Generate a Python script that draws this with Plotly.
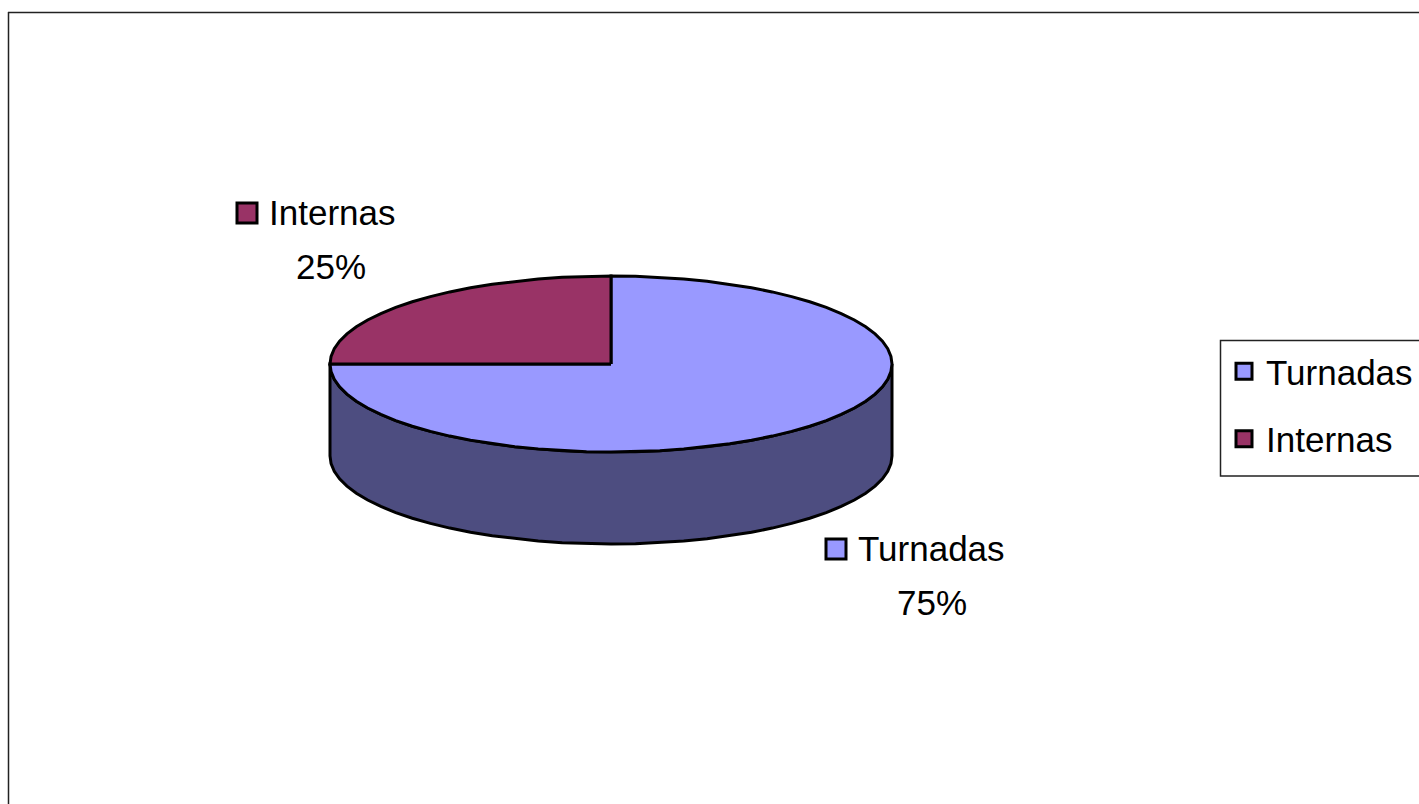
import math
import plotly.graph_objects as go

categories = ["Turnadas", "Internas"]
shares = [75, 25]
colors = ["#9999FF", "#993366"]
side_color = "#4D4D80"
font = "Liberation Sans, Arial, sans-serif"
FS = 35
DEPTH = 92 / 88
STEP = 5  # degrees between outline points

W, H = 1419, 804
cx, cy, rx, ry = 611, 364, 281, 88

def arc(a0, a1):
    n = max(2, int(round(abs(a1 - a0) / STEP)) + 1)
    out = []
    for i in range(n):
        t = math.radians(a0 + (a1 - a0) * i / (n - 1))
        out.append((math.sin(t), math.cos(t)))
    return out

fig = go.Figure()

front = arc(90, 270)
sx = [p[0] for p in front] + [p[0] for p in reversed(front)] + [front[0][0]]
sy = [p[1] for p in front] + [p[1] - DEPTH for p in reversed(front)] + [front[0][1]]
fig.add_trace(go.Scatter(x=sx, y=sy, mode="lines", fill="toself", fillcolor=side_color,
                         line=dict(color="black", width=3), showlegend=False, hoverinfo="skip"))

total = sum(shares)
start = 0.0
for name, val, col in zip(categories, shares, colors):
    end = start + 360 * val / total
    pts = arc(start, end)
    x = [0] + [p[0] for p in pts] + [0]
    y = [0] + [p[1] for p in pts] + [0]
    fig.add_trace(go.Scatter(x=x, y=y, mode="lines", fill="toself", fillcolor=col,
                             line=dict(color="black", width=3), showlegend=False, hoverinfo="skip"))
    start = end

def ux(px): return (px - cx) / rx
def uy(py): return (cy - py) / ry

for i, (name, col) in enumerate(zip(categories, colors)):
    fig.add_trace(go.Scatter(x=[None], y=[None], mode="markers", name=name, legendgroup=name,
                             marker=dict(symbol="square", size=16, color=col,
                                         line=dict(color="black", width=3))))

label_keys = [(836, 549), (247, 213)]
label_text = [(856, 548), (267, 212)]
label_pct = [(932, 602), (331, 266)]
for name, val, col, k, t, p in zip(categories, shares, colors, label_keys, label_text, label_pct):
    fig.add_trace(go.Scatter(x=[ux(k[0])], y=[uy(k[1])], mode="markers", showlegend=False, hoverinfo="skip",
                             marker=dict(symbol="square", size=20, color=col,
                                         line=dict(color="black", width=3))))
    fig.add_annotation(x=ux(t[0]), y=uy(t[1]), text=name, showarrow=False, xanchor="left", yanchor="middle",
                       font=dict(family=font, size=FS, color="black"))
    fig.add_annotation(x=ux(p[0]), y=uy(p[1]), text=f"{val}%", showarrow=False, xanchor="center", yanchor="middle",
                       font=dict(family=font, size=FS, color="black"))

fig.update_layout(
    width=W, height=H, margin=dict(l=0, r=0, t=0, b=0),
    paper_bgcolor="white", plot_bgcolor="white",
    xaxis=dict(range=[ux(0), ux(W)], visible=False, fixedrange=True),
    yaxis=dict(range=[uy(H), uy(0)], visible=False, fixedrange=True),
    legend=dict(x=1222 / W, y=1 - 342 / H, xanchor="left", yanchor="top",
                borderwidth=0, bgcolor="rgba(0,0,0,0)",
                font=dict(family=font, size=FS, color="black"),
                tracegroupgap=19, itemsizing="trace", itemwidth=34),
    shapes=[
        dict(type="line", xref="paper", yref="paper", x0=8 / W, x1=1, y0=1 - 12.5 / H, y1=1 - 12.5 / H,
             line=dict(color="#222222", width=1.5)),
        dict(type="line", xref="paper", yref="paper", x0=8.5 / W, x1=8.5 / W, y0=0, y1=1 - 12 / H,
             line=dict(color="#222222", width=1.5)),
        dict(type="rect", xref="paper", yref="paper", x0=1220.5 / W, x1=1.01, y0=1 - 476 / H, y1=1 - 340.5 / H,
             line=dict(color="#222222", width=1.5)),
    ],
    showlegend=True,
)

fig.write_html("out.html", config={"displayModeBar": False},
               post_script="document.body.style.margin='0';document.body.style.overflow='hidden';")
